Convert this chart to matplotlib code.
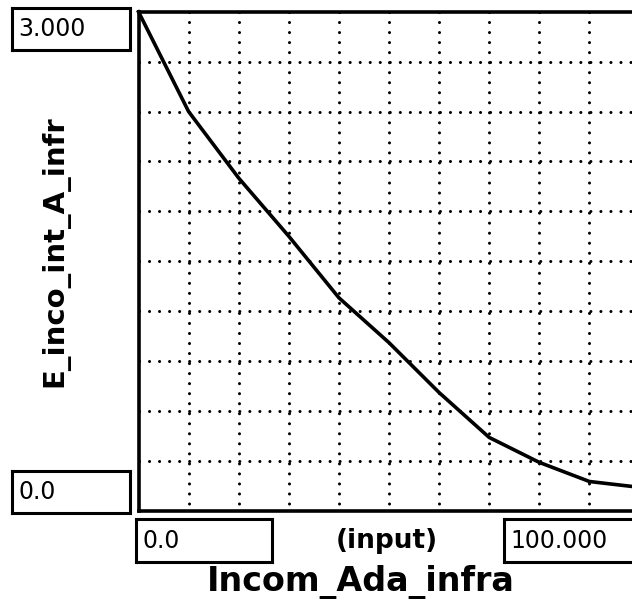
import matplotlib
matplotlib.use("Agg")
import matplotlib.pyplot as plt
import numpy as np

# Lookup table: input -> effect
x_input = [0, 10, 20, 30, 40, 50, 60, 70, 80, 90, 100]
y_effect = [3.0, 2.4, 2.0, 1.65, 1.28, 1.01, 0.71, 0.44, 0.29, 0.175, 0.14]

x_min, x_max = 0.0, 100.0
y_min, y_max = 0.0, 3.0
x_label = "Incom_Ada_infra"
y_label = "E_inco_int_A_infr"
input_caption = "(input)"

W, H = 632, 604
fig = plt.figure(figsize=(W / 100, H / 100), dpi=100)
fig.patch.set_facecolor("white")


def fx(px):
    return px / W


def fy(py):
    return 1 - py / H


# Plot area in pixel coordinates (right edge extends past the figure)
left, top, right, bottom = 138.5, 11.8, 639.5, 510.6
ax = fig.add_axes([fx(left), fy(bottom), (right - left) / W, (bottom - top) / H])
ax.set_xlim(x_min, x_max)
ax.set_ylim(y_min, y_max)
ax.set_xticks([])
ax.set_yticks([])
for side in ("left", "top", "bottom"):
    ax.spines[side].set_linewidth(2.6)
    ax.spines[side].set_color("black")
ax.spines["right"].set_visible(False)

# Dotted grid: ten divisions each way
dot_lw = 2.2
dot_style = dict(color="black", linewidth=dot_lw, dash_capstyle="round",
                 dashes=(0.01, 7.2 / dot_lw))
for gx in np.linspace(x_min, x_max, 11)[1:-1]:
    ax.plot([gx, gx], [y_max, y_min], **dot_style, zorder=1)
for gy in np.linspace(y_min, y_max, 11)[1:-1]:
    ax.plot([x_min, x_max], [gy, gy], **dot_style, zorder=1)

# Lookup curve
ax.plot(x_input, y_effect, color="black", linewidth=2.6, zorder=3,
        solid_joinstyle="round", clip_on=False)


def boxed(text, x0, y0, x1, y1, size=17):
    bax = fig.add_axes([fx(x0), fy(y1), (x1 - x0) / W, (y1 - y0) / H])
    bax.set_xticks([])
    bax.set_yticks([])
    bax.set_xlim(0, 1)
    bax.set_ylim(0, 1)
    for s in bax.spines.values():
        s.set_linewidth(2.2)
        s.set_color("black")
    bax.text(6 / (x1 - x0), 0.5, text, ha="left", va="center",
             fontsize=size, family="DejaVu Sans", color="black")
    return bax


# Range boxes
boxed(f"{y_max:.3f}", 12, 8, 130, 50)
boxed(f"{y_min:.1f}", 12, 471, 130, 513)
boxed(f"{x_min:.1f}", 136, 519, 272, 562)
boxed(f"{x_max:.3f}", 504, 519, 645, 562)

# Captions
fig.text(fx(387), fy(541), input_caption, ha="center", va="center",
         fontsize=19, fontweight="bold", family="DejaVu Sans")
fig.text(fx(361), fy(582), x_label, ha="center", va="center",
         fontsize=24, fontweight="bold", family="DejaVu Sans")
fig.text(fx(55), fy(251), y_label, ha="center", va="center", rotation=90,
         fontsize=21, fontweight="bold", family="DejaVu Sans")

fig.savefig("out.png", dpi=100, facecolor="white")
